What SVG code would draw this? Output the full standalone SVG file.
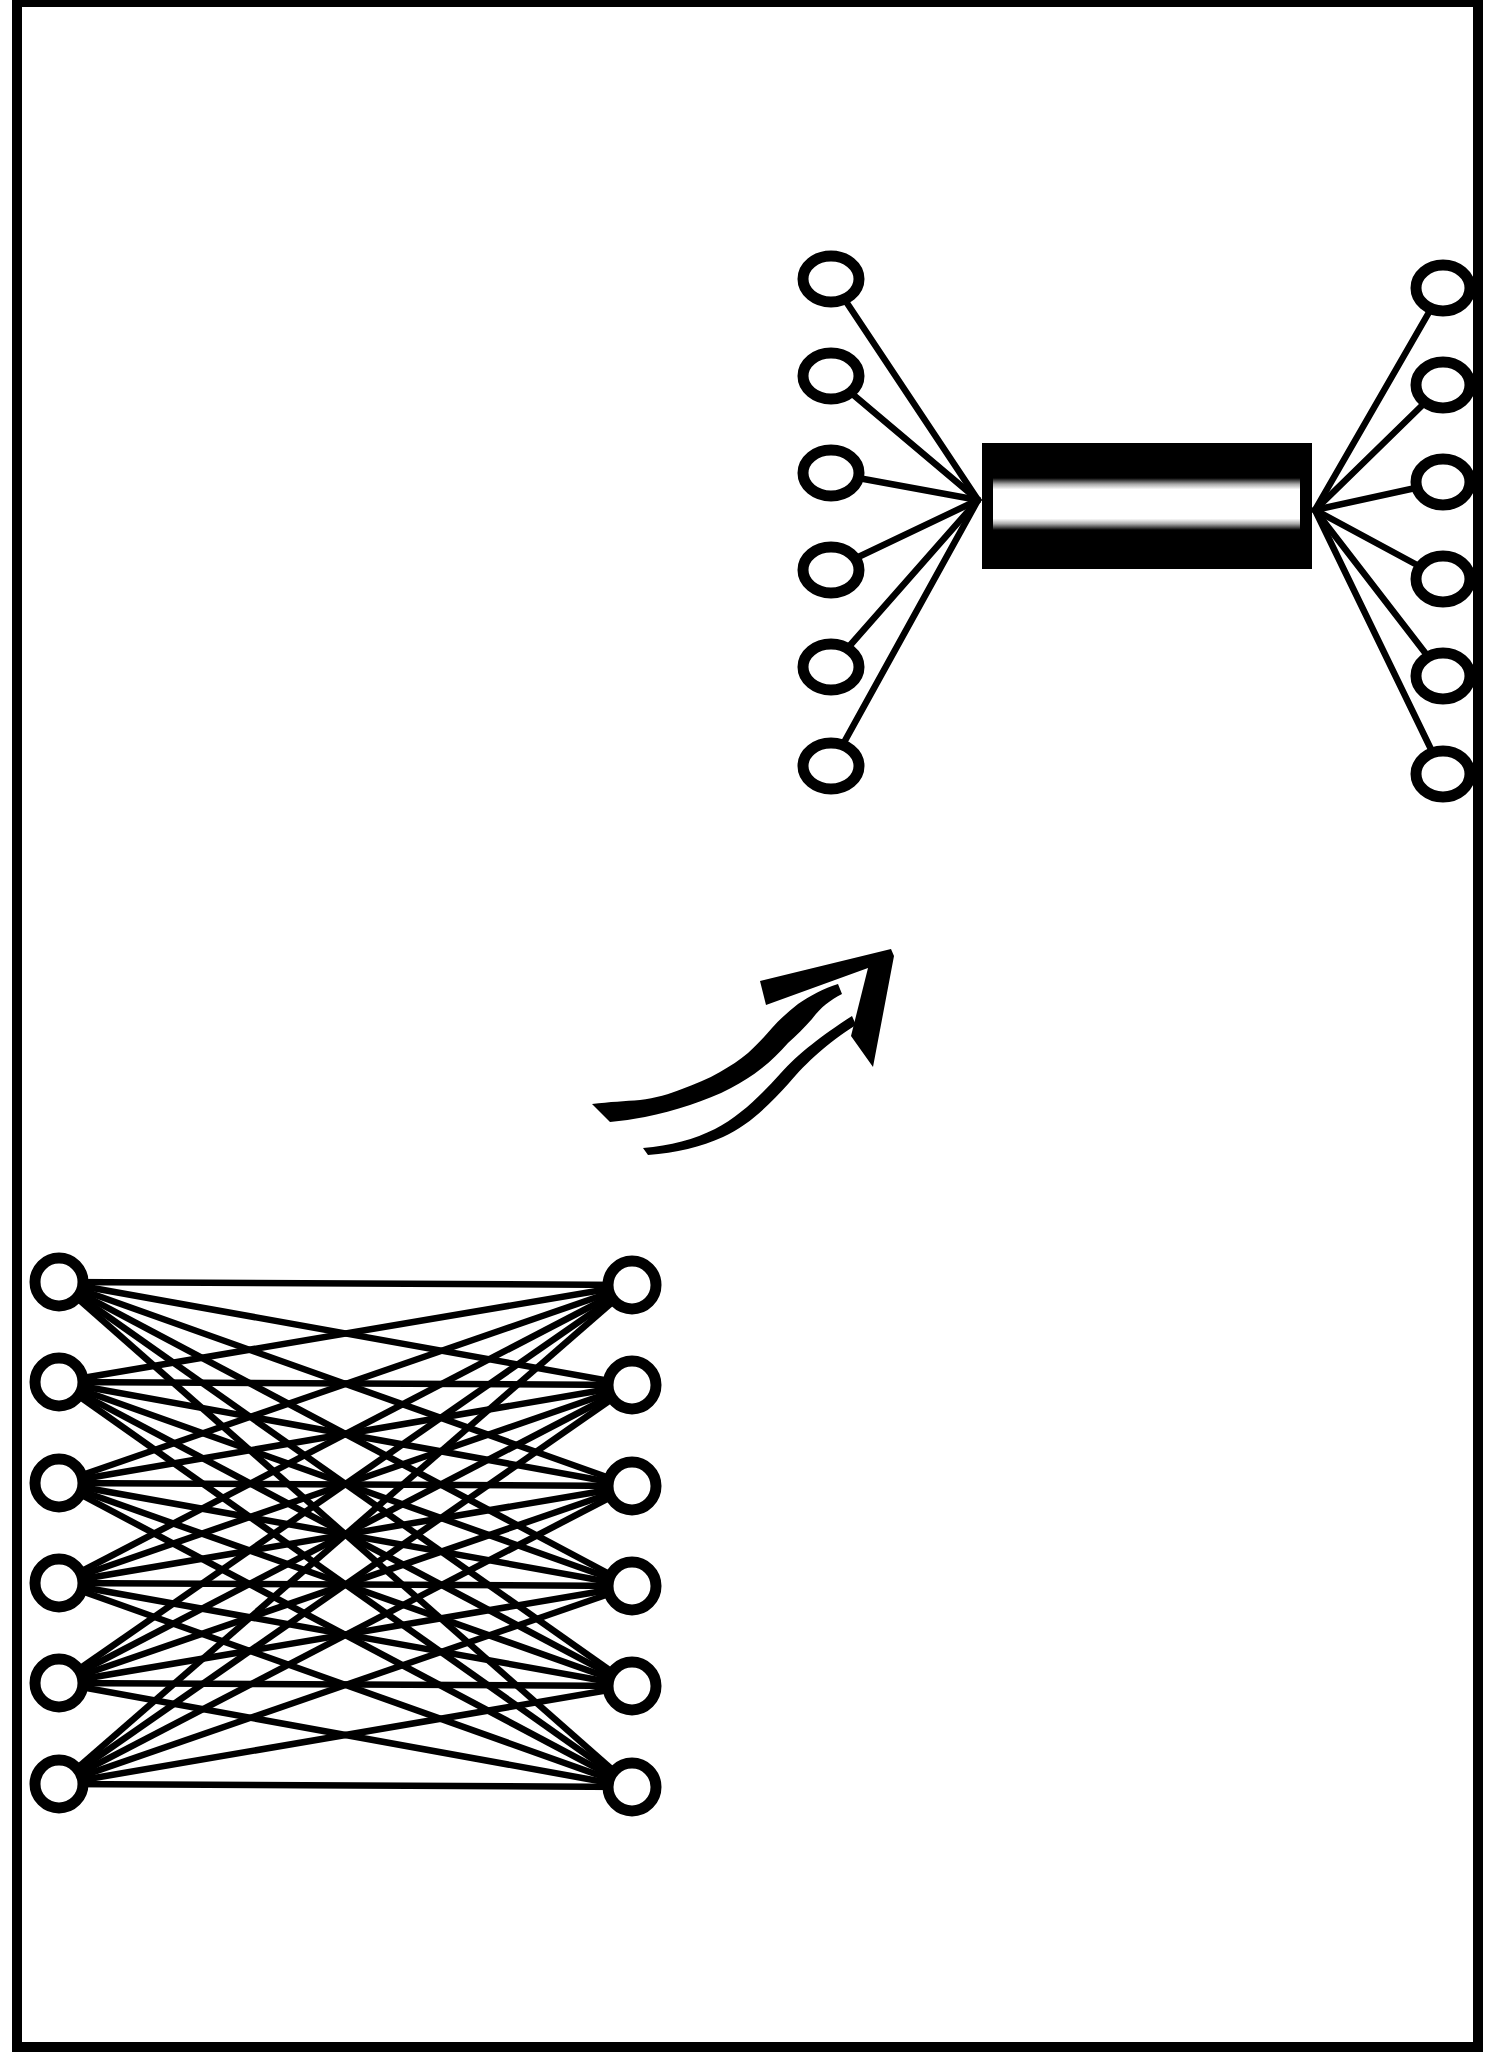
<svg xmlns="http://www.w3.org/2000/svg" width="1488" height="2070" viewBox="0 0 1488 2070">
<defs>
<style>
.node{fill:#fff;stroke:#000;stroke-width:11}
.wire{stroke:#000;stroke-width:6.5;fill:none;stroke-linecap:round}
.mesh{stroke:#000;stroke-width:6.5;fill:none}
.ink{fill:#000;stroke:none}
</style>
<linearGradient id="band" x1="0" y1="0" x2="0" y2="1">
<stop offset="0" stop-color="#000"/>
<stop offset="0.12" stop-color="#aaa"/>
<stop offset="0.22" stop-color="#fff"/>
<stop offset="0.78" stop-color="#fff"/>
<stop offset="0.88" stop-color="#aaa"/>
<stop offset="1" stop-color="#000"/>
</linearGradient>
</defs>
<rect x="0" y="0" width="1488" height="2070" fill="#fff"/>
<rect id="frame" x="17" y="2" width="1461" height="2045" fill="none" stroke="#000" stroke-width="10"/>

<g id="connectors">
  <g id="bus-left-wires" class="wire">
    <line x1="831" y1="279" x2="978" y2="500"/>
    <line x1="831" y1="376" x2="978" y2="500"/>
    <line x1="831" y1="473" x2="978" y2="500"/>
    <line x1="831" y1="570" x2="978" y2="500"/>
    <line x1="831" y1="667" x2="978" y2="500"/>
    <line x1="831" y1="766" x2="978" y2="500"/>
  </g>
  <g id="bus-right-wires" class="wire">
    <line x1="1443" y1="288" x2="1315" y2="510"/>
    <line x1="1443" y1="385" x2="1315" y2="510"/>
    <line x1="1443" y1="482" x2="1315" y2="510"/>
    <line x1="1443" y1="579" x2="1315" y2="510"/>
    <line x1="1443" y1="676" x2="1315" y2="510"/>
    <line x1="1443" y1="774" x2="1315" y2="510"/>
  </g>
  <g id="mesh-wires" class="mesh">
    <line x1="59" y1="1282" x2="632" y2="1285"/><line x1="59" y1="1282" x2="632" y2="1385"/><line x1="59" y1="1282" x2="632" y2="1486"/><line x1="59" y1="1282" x2="632" y2="1586"/><line x1="59" y1="1282" x2="632" y2="1686"/><line x1="59" y1="1282" x2="632" y2="1787"/>
    <line x1="59" y1="1382" x2="632" y2="1285"/><line x1="59" y1="1382" x2="632" y2="1385"/><line x1="59" y1="1382" x2="632" y2="1486"/><line x1="59" y1="1382" x2="632" y2="1586"/><line x1="59" y1="1382" x2="632" y2="1686"/><line x1="59" y1="1382" x2="632" y2="1787"/>
    <line x1="59" y1="1483" x2="632" y2="1285"/><line x1="59" y1="1483" x2="632" y2="1385"/><line x1="59" y1="1483" x2="632" y2="1486"/><line x1="59" y1="1483" x2="632" y2="1586"/><line x1="59" y1="1483" x2="632" y2="1686"/><line x1="59" y1="1483" x2="632" y2="1787"/>
    <line x1="59" y1="1583" x2="632" y2="1285"/><line x1="59" y1="1583" x2="632" y2="1385"/><line x1="59" y1="1583" x2="632" y2="1486"/><line x1="59" y1="1583" x2="632" y2="1586"/><line x1="59" y1="1583" x2="632" y2="1686"/><line x1="59" y1="1583" x2="632" y2="1787"/>
    <line x1="59" y1="1683" x2="632" y2="1285"/><line x1="59" y1="1683" x2="632" y2="1385"/><line x1="59" y1="1683" x2="632" y2="1486"/><line x1="59" y1="1683" x2="632" y2="1586"/><line x1="59" y1="1683" x2="632" y2="1686"/><line x1="59" y1="1683" x2="632" y2="1787"/>
    <line x1="59" y1="1784" x2="632" y2="1285"/><line x1="59" y1="1784" x2="632" y2="1385"/><line x1="59" y1="1784" x2="632" y2="1486"/><line x1="59" y1="1784" x2="632" y2="1586"/><line x1="59" y1="1784" x2="632" y2="1686"/><line x1="59" y1="1784" x2="632" y2="1787"/>
  </g>
</g>

<g id="bus">
  <rect x="982" y="443" width="330" height="126" fill="#000"/>
  <rect x="993" y="478" width="307" height="52" fill="url(#band)"/>
</g>

<g id="top-left-nodes">
  <g id="tl1"><ellipse class="node" cx="831" cy="279" rx="28" ry="23"/></g>
  <g id="tl2"><ellipse class="node" cx="831" cy="376" rx="28" ry="23"/></g>
  <g id="tl3"><ellipse class="node" cx="831" cy="473" rx="28" ry="23"/></g>
  <g id="tl4"><ellipse class="node" cx="831" cy="570" rx="28" ry="23"/></g>
  <g id="tl5"><ellipse class="node" cx="831" cy="667" rx="28" ry="23"/></g>
  <g id="tl6"><ellipse class="node" cx="831" cy="766" rx="28" ry="23"/></g>
</g>
<g id="top-right-nodes">
  <g id="tr1"><ellipse class="node" cx="1443" cy="288" rx="27" ry="23"/></g>
  <g id="tr2"><ellipse class="node" cx="1443" cy="385" rx="27" ry="23"/></g>
  <g id="tr3"><ellipse class="node" cx="1443" cy="482" rx="27" ry="23"/></g>
  <g id="tr4"><ellipse class="node" cx="1443" cy="579" rx="27" ry="23"/></g>
  <g id="tr5"><ellipse class="node" cx="1443" cy="676" rx="27" ry="23"/></g>
  <g id="tr6"><ellipse class="node" cx="1443" cy="774" rx="27" ry="23"/></g>
</g>

<g id="arrow">
  <path class="ink" d="M592,1104 C610,1102 625,1101 640,1100 C655,1098 670,1094 682,1089 C695,1084 708,1079 720,1072 C730,1066 740,1060 748,1053 C757,1045 765,1036 772,1028 C780,1019 789,1011 798,1004 C810,996 824,988 838,984 L842,994 C830,1000 820,1008 812,1019 C804,1028 796,1036 788,1043 C780,1052 771,1061 762,1068 C752,1076 742,1082 731,1088 C718,1095 704,1100 690,1105 C675,1110 660,1114 645,1117 C633,1119 622,1121 610,1122 Z"/>
  <path class="ink" d="M643,1148 C670,1146 695,1139 715,1129 C740,1116 760,1096 780,1074 C800,1052 820,1037 852,1016 L856,1025 C826,1044 808,1061 789,1083 C769,1105 749,1125 723,1137 C701,1147 676,1153 648,1155 Z"/>
  <path class="ink" d="M760,981 L891,949 L894,956 L873,1067 L851,1036 L868,968 L766,1005 Z"/>
</g>

<g id="mesh-left-nodes">
  <g id="ml1"><circle class="node" cx="59" cy="1282" r="24"/></g>
  <g id="ml2"><circle class="node" cx="59" cy="1382" r="24"/></g>
  <g id="ml3"><circle class="node" cx="59" cy="1483" r="24"/></g>
  <g id="ml4"><circle class="node" cx="59" cy="1583" r="24"/></g>
  <g id="ml5"><circle class="node" cx="59" cy="1683" r="24"/></g>
  <g id="ml6"><circle class="node" cx="59" cy="1784" r="24"/></g>
</g>
<g id="mesh-right-nodes">
  <g id="mr1"><circle class="node" cx="632" cy="1285" r="24"/></g>
  <g id="mr2"><circle class="node" cx="632" cy="1385" r="24"/></g>
  <g id="mr3"><circle class="node" cx="632" cy="1486" r="24"/></g>
  <g id="mr4"><circle class="node" cx="632" cy="1586" r="24"/></g>
  <g id="mr5"><circle class="node" cx="632" cy="1686" r="24"/></g>
  <g id="mr6"><circle class="node" cx="632" cy="1787" r="24"/></g>
</g>
</svg>
